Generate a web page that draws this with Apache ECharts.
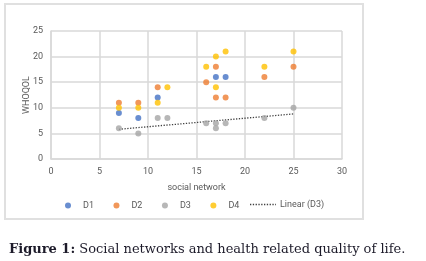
<!DOCTYPE html>
<html>
<head>
<meta charset="utf-8">
<script src="https://cdn.jsdelivr.net/npm/echarts@6/dist/echarts.min.js"></script>
<style>
  html, body { margin: 0; padding: 0; background: #fff; }
  #chart { width: 426px; height: 261px; }
</style>
</head>
<body>
<div id="chart"></div>
<script>
// [social network, WHOQOL]
const d1 = [[7, 9], [9, 8], [11, 12], [17, 16], [18, 16]];
const d2 = [[7, 11], [9, 11], [11, 14], [16, 15], [17, 18], [17, 12], [18, 12], [22, 16], [25, 18]];
const d3 = [[7, 6], [9, 5], [11, 8], [12, 8], [16, 7], [17, 7], [17, 6], [18, 7], [22, 8], [25, 10]];
const d4 = [[7, 10], [9, 10], [11, 11], [12, 14], [16, 18], [17, 20], [18, 21], [17, 14], [22, 18], [25, 21]];
// trendline end points
const trendD3 = [[7, 5.8], [25, 8.8]];

const seriesNames = ['D1', 'D2', 'D3', 'D4'];
const colors = ['#4472C4', '#ED7D31', '#A5A5A5', '#FFC000'];

const chart = echarts.init(document.getElementById('chart'), null, { renderer: 'canvas' });

const font = 'Roboto';
const gridColor = '#d9d9d9';
const labelColor = '#595959';
const trendColor = '#404040';

const scatter = (name, data, i) => ({
  name,
  type: 'scatter',
  data,
  symbol: 'circle',
  symbolSize: 6,
  itemStyle: { color: colors[i] },
  z: 3 + i,
});

chart.setOption({
  animation: false,
  backgroundColor: '#fff',
  textStyle: { fontFamily: font },
  title: {
    text: '{b|Figure 1:} Social networks and health related quality of life.',
    left: 4,
    top: 238,
    textStyle: {
      fontFamily: 'DejaVu Serif',
      fontSize: 13,
      fontWeight: 'normal',
      color: '#1d1b2a',
      rich: {
        b: { fontFamily: 'DejaVu Serif', fontSize: 13, fontWeight: 'bold', color: '#1d1b2a' },
      },
    },
  },
  graphic: [
    {
      type: 'rect',
      shape: { x: 5, y: 4, width: 358, height: 215 },
      style: { fill: 'none', stroke: '#e0e0e0', lineWidth: 2 },
      silent: true,
      z: -1,
    },
    // legend swatch for the dotted trendline
    {
      type: 'line',
      shape: { x1: 250, y1: 204.5, x2: 276, y2: 204.5 },
      style: { stroke: trendColor, lineWidth: 1.3, lineDash: [1.3, 1.5] },
      silent: true,
    },
  ],
  grid: { left: 51, right: 84, top: 31, bottom: 102 },
  xAxis: {
    type: 'value',
    min: 0,
    max: 30,
    interval: 5,
    name: 'social network',
    nameLocation: 'middle',
    nameGap: 24,
    nameMoveOverlap: false,
    nameTextStyle: { color: labelColor, fontSize: 9, fontFamily: font },
    axisLine: { show: true, lineStyle: { color: gridColor, width: 1.5 } },
    axisTick: { show: false },
    axisLabel: { color: labelColor, fontSize: 9, margin: 8 },
    splitLine: { show: true, lineStyle: { color: gridColor, width: 1.5 } },
  },
  yAxis: {
    type: 'value',
    min: 0,
    max: 25,
    interval: 5,
    name: 'WHOQOL',
    nameLocation: 'middle',
    nameGap: 20,
    nameMoveOverlap: false,
    nameTextStyle: { color: labelColor, fontSize: 9, fontFamily: font },
    axisLine: { show: true, lineStyle: { color: gridColor, width: 1.5 } },
    axisTick: { show: false },
    axisLabel: { color: labelColor, fontSize: 9, margin: 8 },
    splitLine: { show: true, lineStyle: { color: gridColor, width: 1.5 } },
  },
  legend: [
    {
      data: seriesNames,
      left: 60,
      top: 196,
      icon: 'circle',
      itemWidth: 6,
      itemHeight: 6,
      itemGap: 19.5,
      textStyle: { color: labelColor, fontSize: 9, padding: [0, 0, 0, 7] },
    },
    {
      data: [{ name: 'Linear (D3)', icon: 'none' }],
      left: 243,
      top: 195,
      itemWidth: 27,
      itemHeight: 8,
      textStyle: { color: labelColor, fontSize: 9 },
    },
  ],
  series: [
    scatter('D1', d1, 0),
    scatter('D2', d2, 1),
    scatter('D3', d3, 2),
    scatter('D4', d4, 3),
    {
      name: 'Linear (D3)',
      type: 'line',
      data: trendD3,
      symbol: 'none',
      itemStyle: { color: trendColor },
      lineStyle: { color: trendColor, width: 1.3, type: [1.3, 1.5] },
      z: 2,
    },
  ],
});
</script>
</body>
</html>
